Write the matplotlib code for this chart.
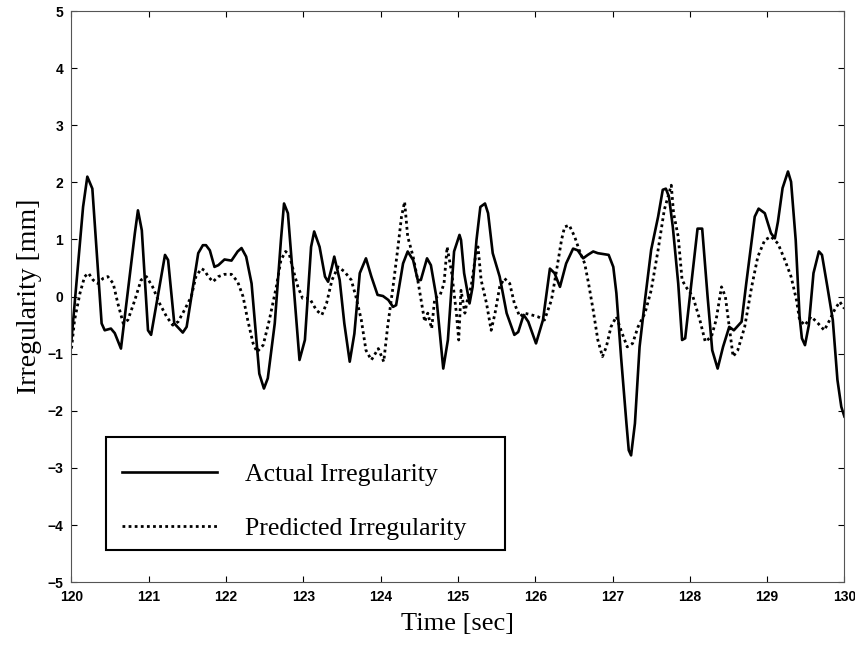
import matplotlib
matplotlib.use("Agg")
import matplotlib.pyplot as plt
from matplotlib.patches import Rectangle

# actual irregularity (solid)
t_act = [120.0, 120.15, 120.205, 120.27, 120.39, 120.43, 120.51, 120.56, 120.64,
         120.82, 120.86, 120.91, 120.99, 121.03, 121.21, 121.25, 121.33, 121.44,
         121.49, 121.64, 121.70, 121.74, 121.79, 121.85, 121.90, 121.98, 122.07,
         122.15, 122.20, 122.26, 122.33, 122.43, 122.49, 122.54, 122.63, 122.71,
         122.75, 122.80, 122.95, 123.02, 123.10, 123.14, 123.21, 123.28, 123.32,
         123.37, 123.40, 123.47, 123.53, 123.60, 123.66, 123.73, 123.81, 123.88,
         123.96, 124.03, 124.10, 124.16, 124.20, 124.29, 124.35, 124.42, 124.48,
         124.52, 124.60, 124.65, 124.72, 124.81, 124.87, 124.95, 125.02, 125.04,
         125.08, 125.15, 125.19, 125.24, 125.29, 125.35, 125.39, 125.45, 125.54,
         125.63, 125.73, 125.78, 125.85, 125.91, 126.01, 126.10, 126.19, 126.25,
         126.32, 126.40, 126.49, 126.55, 126.62, 126.68, 126.75, 126.81, 126.95,
         127.01, 127.05, 127.11, 127.18, 127.21, 127.24, 127.29, 127.35, 127.42,
         127.50, 127.59, 127.65, 127.69, 127.73, 127.78, 127.85, 127.90, 127.94,
         128.02, 128.10, 128.16, 128.23, 128.29, 128.36, 128.43, 128.51, 128.57,
         128.67, 128.73, 128.84, 128.89, 128.97, 129.05, 129.10, 129.14, 129.20,
         129.27, 129.31, 129.37, 129.42, 129.45, 129.49, 129.54, 129.60, 129.67,
         129.71, 129.78, 129.85, 129.91, 129.96, 130.0]
v_act = [-0.76, 1.57, 2.10, 1.89, -0.47, -0.59, -0.56, -0.64, -0.91,
         1.11, 1.51, 1.16, -0.59, -0.67, 0.73, 0.64, -0.47, -0.63,
         -0.53, 0.76, 0.90, 0.90, 0.81, 0.52, 0.55, 0.65, 0.63,
         0.79, 0.85, 0.70, 0.23, -1.35, -1.61, -1.43, -0.47, 0.99,
         1.63, 1.46, -1.11, -0.76, 0.87, 1.14, 0.87, 0.35, 0.26,
         0.52, 0.70, 0.29, -0.47, -1.14, -0.65, 0.41, 0.67, 0.35,
         0.03, 0.01, -0.06, -0.18, -0.15, 0.58, 0.79, 0.64, 0.29,
         0.29, 0.67, 0.55, 0.0, -1.26, -0.76, 0.79, 1.08, 0.99,
         0.41, -0.12, 0.17, 0.99, 1.57, 1.63, 1.46, 0.76, 0.35,
         -0.29, -0.67, -0.62, -0.32, -0.44, -0.82, -0.41, 0.49, 0.41,
         0.17, 0.58, 0.84, 0.81, 0.67, 0.73, 0.79, 0.76, 0.73,
         0.52, 0.06, -1.05, -2.22, -2.69, -2.78, -2.22, -0.88, -0.06,
         0.82, 1.40, 1.87, 1.89, 1.75, 1.22, 0.23, -0.76, -0.73,
         0.23, 1.19, 1.19, 0.0, -0.94, -1.26, -0.88, -0.53, -0.59,
         -0.44, 0.23, 1.40, 1.54, 1.46, 1.11, 1.02, 1.31, 1.90,
         2.19, 2.01, 0.99, -0.35, -0.73, -0.85, -0.50, 0.41, 0.79,
         0.73, 0.17, -0.41, -1.46, -1.93, -2.10]

# predicted irregularity (dotted)
t_pred = [120.0, 120.04, 120.11, 120.17, 120.22, 120.28, 120.34, 120.41, 120.47,
          120.54, 120.60, 120.67, 120.73, 120.82, 120.90, 120.97, 121.05, 121.14,
          121.23, 121.31, 121.38, 121.46, 121.55, 121.61, 121.68, 121.72, 121.77,
          121.83, 121.90, 121.98, 122.07, 122.15, 122.22, 122.28, 122.35, 122.40,
          122.48, 122.56, 122.65, 122.71, 122.77, 122.82, 122.87, 122.93, 122.99,
          123.08, 123.17, 123.24, 123.30, 123.37, 123.45, 123.53, 123.62, 123.68,
          123.75, 123.81, 123.88, 123.97, 124.04, 124.09, 124.16, 124.22, 124.27,
          124.31, 124.35, 124.42, 124.48, 124.53, 124.57, 124.61, 124.66, 124.70,
          124.77, 124.82, 124.86, 124.92, 124.98, 125.01, 125.04, 125.09, 125.13,
          125.17, 125.24, 125.26, 125.30, 125.37, 125.43, 125.48, 125.54, 125.60,
          125.67, 125.73, 125.80, 125.86, 125.95, 126.03, 126.12, 126.21, 126.27,
          126.34, 126.38, 126.44, 126.51, 126.57, 126.64, 126.69, 126.75, 126.81,
          126.87, 126.92, 126.98, 127.05, 127.11, 127.19, 127.26, 127.33, 127.42,
          127.50, 127.59, 127.67, 127.76, 127.79, 127.85, 127.90, 127.95, 128.04,
          128.13, 128.20, 128.28, 128.34, 128.41, 128.46, 128.51, 128.56, 128.62,
          128.71, 128.80, 128.88, 128.97, 129.05, 129.14, 129.23, 129.31, 129.38,
          129.42, 129.49, 129.57, 129.66, 129.74, 129.81, 129.87, 129.94, 130.0]
v_pred = [-0.91, -0.41, 0.06, 0.35, 0.41, 0.29, 0.23, 0.32, 0.35,
          0.23, -0.12, -0.47, -0.41, -0.06, 0.29, 0.35, 0.17, -0.12,
          -0.35, -0.50, -0.44, -0.24, 0.0, 0.35, 0.49, 0.46, 0.35,
          0.26, 0.35, 0.39, 0.39, 0.26, 0.0, -0.41, -0.82, -0.97,
          -0.85, -0.41, 0.17, 0.64, 0.79, 0.73, 0.46, 0.17, -0.03,
          -0.03, -0.24, -0.32, -0.12, 0.29, 0.52, 0.44, 0.29, 0.0,
          -0.41, -0.94, -1.11, -0.91, -1.14, -0.53, 0.17, 0.82, 1.40,
          1.66, 1.05, 0.70, 0.29, -0.12, -0.44, -0.29, -0.56, -0.03,
          0.03, 0.23, 0.87, 0.41, -0.29, -0.76, 0.11, -0.29, 0.0,
          0.17, 0.82, 0.87, 0.29, -0.12, -0.59, -0.29, 0.17, 0.32,
          0.23, -0.12, -0.35, -0.29, -0.32, -0.35, -0.41, -0.06, 0.41,
          0.99, 1.22, 1.25, 1.05, 0.81, 0.58, 0.23, -0.24, -0.76,
          -1.05, -0.88, -0.53, -0.35, -0.59, -0.88, -0.82, -0.53, -0.29,
          0.11, 0.82, 1.52, 1.95, 1.46, 1.05, 0.29, 0.17, 0.0,
          -0.41, -0.79, -0.70, -0.41, 0.17, 0.0, -0.53, -1.05, -0.94,
          -0.53, 0.17, 0.70, 0.99, 1.05, 0.93, 0.64, 0.35, -0.06,
          -0.41, -0.50, -0.35, -0.47, -0.59, -0.41, -0.24, -0.09, -0.21]

x_ticks = list(range(120, 131))
y_ticks = list(range(-5, 6))

fig = plt.figure(figsize=(8.55, 6.49), dpi=100)
ax = fig.add_axes([0.0836, 0.103, 0.904, 0.880])

ax.plot(t_act, v_act, color="black", lw=1.9, label="Actual Irregularity")
ax.plot(t_pred, v_pred, color="black", lw=2.0, ls=(0, (1, 1.2)),
        label="Predicted Irregularity")

ax.set_xlim(120, 130)
ax.set_ylim(-5, 5)
ax.set_xticks(x_ticks)
ax.set_yticks(y_ticks)
ax.tick_params(direction="in", length=4, width=0.8, top=True, right=True,
               labelsize=10, pad=6)
for lab in ax.get_xticklabels() + ax.get_yticklabels():
    lab.set_fontfamily("Liberation Sans")
    lab.set_fontweight("bold")
for s in ax.spines.values():
    s.set_linewidth(0.8)
    s.set_color("#555555")

ax.set_xlabel("Time [sec]", family="Liberation Serif", fontsize=19, labelpad=6)
ax.set_ylabel("Irregularity [mm]", family="Liberation Serif", fontsize=20, labelpad=4)

# legend box drawn separately so the entries can sit a little low in it
ax.add_patch(Rectangle((0.0446, 0.056), 0.516, 0.198, transform=ax.transAxes,
                       fill=True, facecolor="white", edgecolor="black", lw=1.5,
                       zorder=4))
leg = ax.legend(loc="lower left", bbox_to_anchor=(0.0653, 0.074),
                frameon=False, prop={"family": "Liberation Serif", "size": 18.5},
                handlelength=3.7, handletextpad=1.1, labelspacing=1.22,
                borderaxespad=0, borderpad=0)
leg.set_zorder(5)

fig.savefig("out.png", dpi=100)
